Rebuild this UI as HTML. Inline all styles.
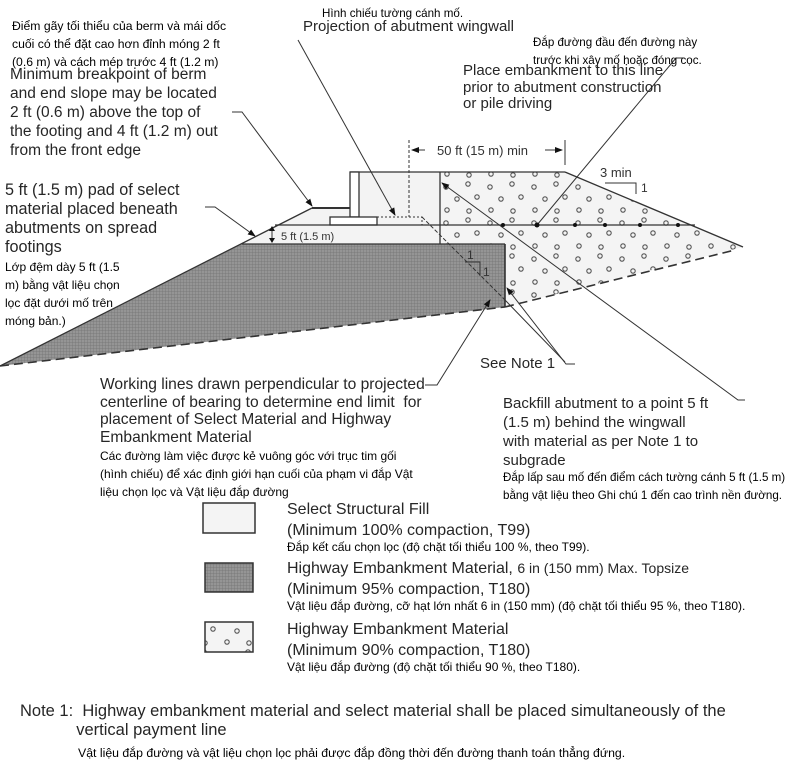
<!DOCTYPE html>
<html><head><meta charset="utf-8"><style>
html,body{margin:0;padding:0;background:#fff;}
body{width:810px;height:768px;position:relative;overflow:hidden;font-family:"Liberation Sans",Arial,sans-serif;color:#333;}
.t{position:absolute;white-space:nowrap;}
.en{font-size:15px;line-height:19px;color:#262626;}
.vi{font-size:11.6px;line-height:18px;color:#000;}
svg{position:absolute;left:0;top:0;}
</style></head><body>
<svg width="810" height="768" viewBox="0 0 810 768">
<defs>
<pattern id="grid" width="3" height="3" patternUnits="userSpaceOnUse"><rect width="3" height="3" fill="#959595"/><path d="M0 0H3M0 0V3" stroke="#747474" stroke-width="0.8"/></pattern>
<pattern id="dots" width="44" height="36" patternUnits="userSpaceOnUse">
<rect width="44" height="36" fill="#f4f4f4"/>
<g fill="none" stroke="#555" stroke-width="1.1">
<circle cx="6" cy="7" r="2.2"/><circle cx="28" cy="4" r="2.2"/><circle cx="17" cy="19" r="2.2"/><circle cx="37" cy="17" r="2.2"/><circle cx="7" cy="30" r="2.2"/><circle cx="29" cy="31" r="2.2"/>
</g></pattern>
<marker id="ar" markerWidth="8" markerHeight="8" refX="7" refY="4" orient="auto" markerUnits="userSpaceOnUse"><path d="M0 1L8 4L0 7Z" fill="#111"/></marker>
</defs>
<polygon points="312,208 350,208 350,172 440,172 440,244 242,244" fill="#f3f3f3"/>
<polygon points="440,172 565,172 743,247 505,307 505,244 440,244" fill="url(#dots)"/>
<polygon points="0,366 242,244 505,244 505,307" fill="url(#grid)"/>
<g stroke="#333" stroke-width="1.3" fill="none">
<line x1="0" y1="366" x2="312" y2="208"/>
<line x1="312" y1="208" x2="350" y2="208" stroke-width="2"/>
<line x1="350" y1="172" x2="565" y2="172"/>
<line x1="565" y1="172" x2="743" y2="247"/>
<rect x="350" y="172" width="9" height="45" fill="#fff"/>
<rect x="330" y="217" width="47" height="8" fill="#fff"/>
<rect x="377" y="217" width="45" height="8" stroke-dasharray="2,2" stroke-width="1"/>
<line x1="275" y1="225" x2="695" y2="225"/>
<line x1="242" y1="244" x2="505" y2="244"/>
<line x1="440" y1="172" x2="440" y2="244"/>
<line x1="505" y1="244" x2="505" y2="307" stroke-width="1.6"/>
<line x1="0" y1="366" x2="505" y2="307" stroke-dasharray="9,5" stroke-width="1.6"/>
<line x1="505" y1="307" x2="735" y2="250" stroke-dasharray="9,5" stroke-width="1.6"/>
<line x1="409" y1="140" x2="409" y2="217" stroke-dasharray="3,2" stroke-width="1"/>
<line x1="565" y1="140" x2="565" y2="165" stroke-width="1"/>
<line x1="422" y1="217" x2="505" y2="300" stroke-dasharray="4,2" stroke-width="1"/>
<line x1="505" y1="300" x2="565" y2="362" stroke-width="1"/>
<polyline points="232,112 242,112 312,206" stroke-width="1" marker-end="url(#ar)"/>
<line x1="298" y1="40" x2="395" y2="215" stroke-width="1" marker-end="url(#ar)"/>
<polyline points="205,207 215,207 255,236" stroke-width="1" marker-end="url(#ar)"/>
<polyline points="683,58 676,58 537,225" stroke-width="1"/>
<polyline points="745,400 738,400 442,183" stroke-width="1" marker-end="url(#ar)"/>
<polyline points="425,385 437,385 490,300" stroke-width="1" marker-end="url(#ar)"/>
<polyline points="575,364 566,364 507,288" stroke-width="1" marker-end="url(#ar)"/>
<line x1="272" y1="227" x2="272" y2="242" stroke-width="1"/>
<polyline points="605,183 636,183 636,194" stroke-width="1"/>
<polyline points="465,262 480,262 480,276" stroke-width="1"/>
<line x1="425" y1="150" x2="412" y2="150" stroke-width="1" marker-end="url(#ar)"/>
<line x1="545" y1="150" x2="562" y2="150" stroke-width="1" marker-end="url(#ar)"/>
</g>
<g fill="#111">
<circle cx="537" cy="225" r="2.5"/><circle cx="575" cy="225" r="2"/><circle cx="605" cy="225" r="2"/><circle cx="640" cy="225" r="2"/><circle cx="678" cy="225" r="2"/><circle cx="503" cy="225" r="2"/>
<path d="M272 226l-3 5h6z M272 243l-3-5h6z"/>
</g>
<rect x="203" y="503" width="52" height="30" fill="#f4f4f4" stroke="#333" stroke-width="1.5"/>
<rect x="205" y="563" width="48" height="29" fill="url(#grid)" stroke="#333" stroke-width="1.5"/>
<rect x="205" y="622" width="48" height="30" fill="url(#dots)" stroke="#333" stroke-width="1.5"/>
<text x="281" y="240" font-size="11" fill="#333" font-family="Liberation Sans, sans-serif">5 ft (1.5 m)</text>
<text x="437" y="155" font-size="13" fill="#333" font-family="Liberation Sans, sans-serif">50 ft (15 m) min</text>
<text x="600" y="177" font-size="13" fill="#333" font-family="Liberation Sans, sans-serif">3 min</text>
<text x="641" y="192" font-size="12" fill="#333" font-family="Liberation Sans, sans-serif">1</text>
<text x="467" y="259" font-size="12" fill="#333" font-family="Liberation Sans, sans-serif">1</text>
<text x="483" y="276" font-size="12" fill="#333" font-family="Liberation Sans, sans-serif">1</text>
</svg>

<div class="t vi" style="left:12px;top:17px;font-size:12.2px">Điểm gãy tối thiểu của berm và mái dốc<br>cuối có thể đặt cao hơn đỉnh móng 2 ft<br>(0.6 m) và cách mép trước 4 ft (1.2 m)</div>
<div class="t en" style="left:10px;top:65px;font-size:15.5px">Minimum breakpoint of berm<br>and end slope may be located<br>2 ft (0.6 m) above the top of<br>the footing and 4 ft (1.2 m) out<br>from the front edge</div>
<div class="t en" style="left:5px;top:181px;font-size:16.2px">5 ft (1.5 m) pad of select<br>material placed beneath<br>abutments on spread<br>footings</div>
<div class="t vi" style="left:5px;top:258px;font-size:12px">Lớp đệm dày 5 ft (1.5<br>m) bằng vật liệu chọn<br>lọc đặt dưới mố trên<br>móng bản.)</div>
<div class="t vi" style="left:322px;top:5px;">Hình chiếu tường cánh mố.</div>
<div class="t en" style="left:303px;top:18px;line-height:18px">Projection of abutment wingwall</div>
<div class="t vi" style="left:533px;top:34px;">Đắp đường đầu đến đường này<br>trước khi xây mố hoặc đóng cọc.</div>
<div class="t en" style="left:463px;top:63px;line-height:16.5px">Place embankment to this line<br>prior to abutment construction<br>or pile driving</div>
<div class="t en" style="left:100px;top:376px;line-height:17.5px;font-size:15.6px">Working lines drawn perpendicular to projected<br>centerline of bearing to determine end limit &nbsp;for<br>placement of Select Material and Highway<br>Embankment Material</div>
<div class="t vi" style="left:100px;top:447px;font-size:12px">Các đường làm việc được kẻ vuông góc với trục tim gối<br>(hình chiếu) để xác định giới hạn cuối của phạm vi đắp Vật<br>liệu chọn lọc và Vật liệu đắp đường</div>
<div class="t en" style="left:480px;top:354px;">See Note 1</div>
<div class="t en" style="left:503px;top:394px;">Backfill abutment to a point 5 ft<br>(1.5 m) behind the wingwall<br>with material as per Note 1 to<br>subgrade</div>
<div class="t vi" style="left:503px;top:469px;">Đắp lấp sau mố đến điểm cách tường cánh 5 ft (1.5 m)<br>bằng vật liệu theo Ghi chú 1 đến cao trình nền đường.</div>

<div class="t en" style="left:287px;top:499px;font-size:16px;line-height:21px">Select Structural Fill<br>(Minimum 100% compaction, T99)</div>
<div class="t vi" style="left:287px;top:538px;font-size:12px">Đắp kết cấu chọn lọc (độ chặt tối thiểu 100 %, theo T99).</div>
<div class="t en" style="left:287px;top:558px;font-size:16px;line-height:21px">Highway Embankment Material, <span style="font-size:14px">6 in (150 mm) Max. Topsize</span><br>(Minimum 95% compaction, T180)</div>
<div class="t vi" style="left:287px;top:597px;font-size:12px">Vật liệu đắp đường, cỡ hạt lớn nhất 6 in (150 mm) (độ chặt tối thiểu 95 %, theo T180).</div>
<div class="t en" style="left:287px;top:619px;font-size:16px;line-height:21px">Highway Embankment Material<br>(Minimum 90% compaction, T180)</div>
<div class="t vi" style="left:287px;top:658px;font-size:12px">Vật liệu đắp đường (độ chặt tối thiểu 90 %, theo T180).</div>

<div class="t en" style="left:20px;top:701px;font-size:17px;line-height:19px;transform:scaleX(0.97);transform-origin:0 0">Note 1:&nbsp; Highway embankment material and select material shall be placed simultaneously of the<br><span style="padding-left:58px">vertical payment line</span></div>
<div class="t vi" style="left:78px;top:744px;font-size:12.3px">Vật liệu đắp đường và vật liệu chọn lọc phải được đắp đồng thời đến đường thanh toán thẳng đứng.</div>
</body></html>
